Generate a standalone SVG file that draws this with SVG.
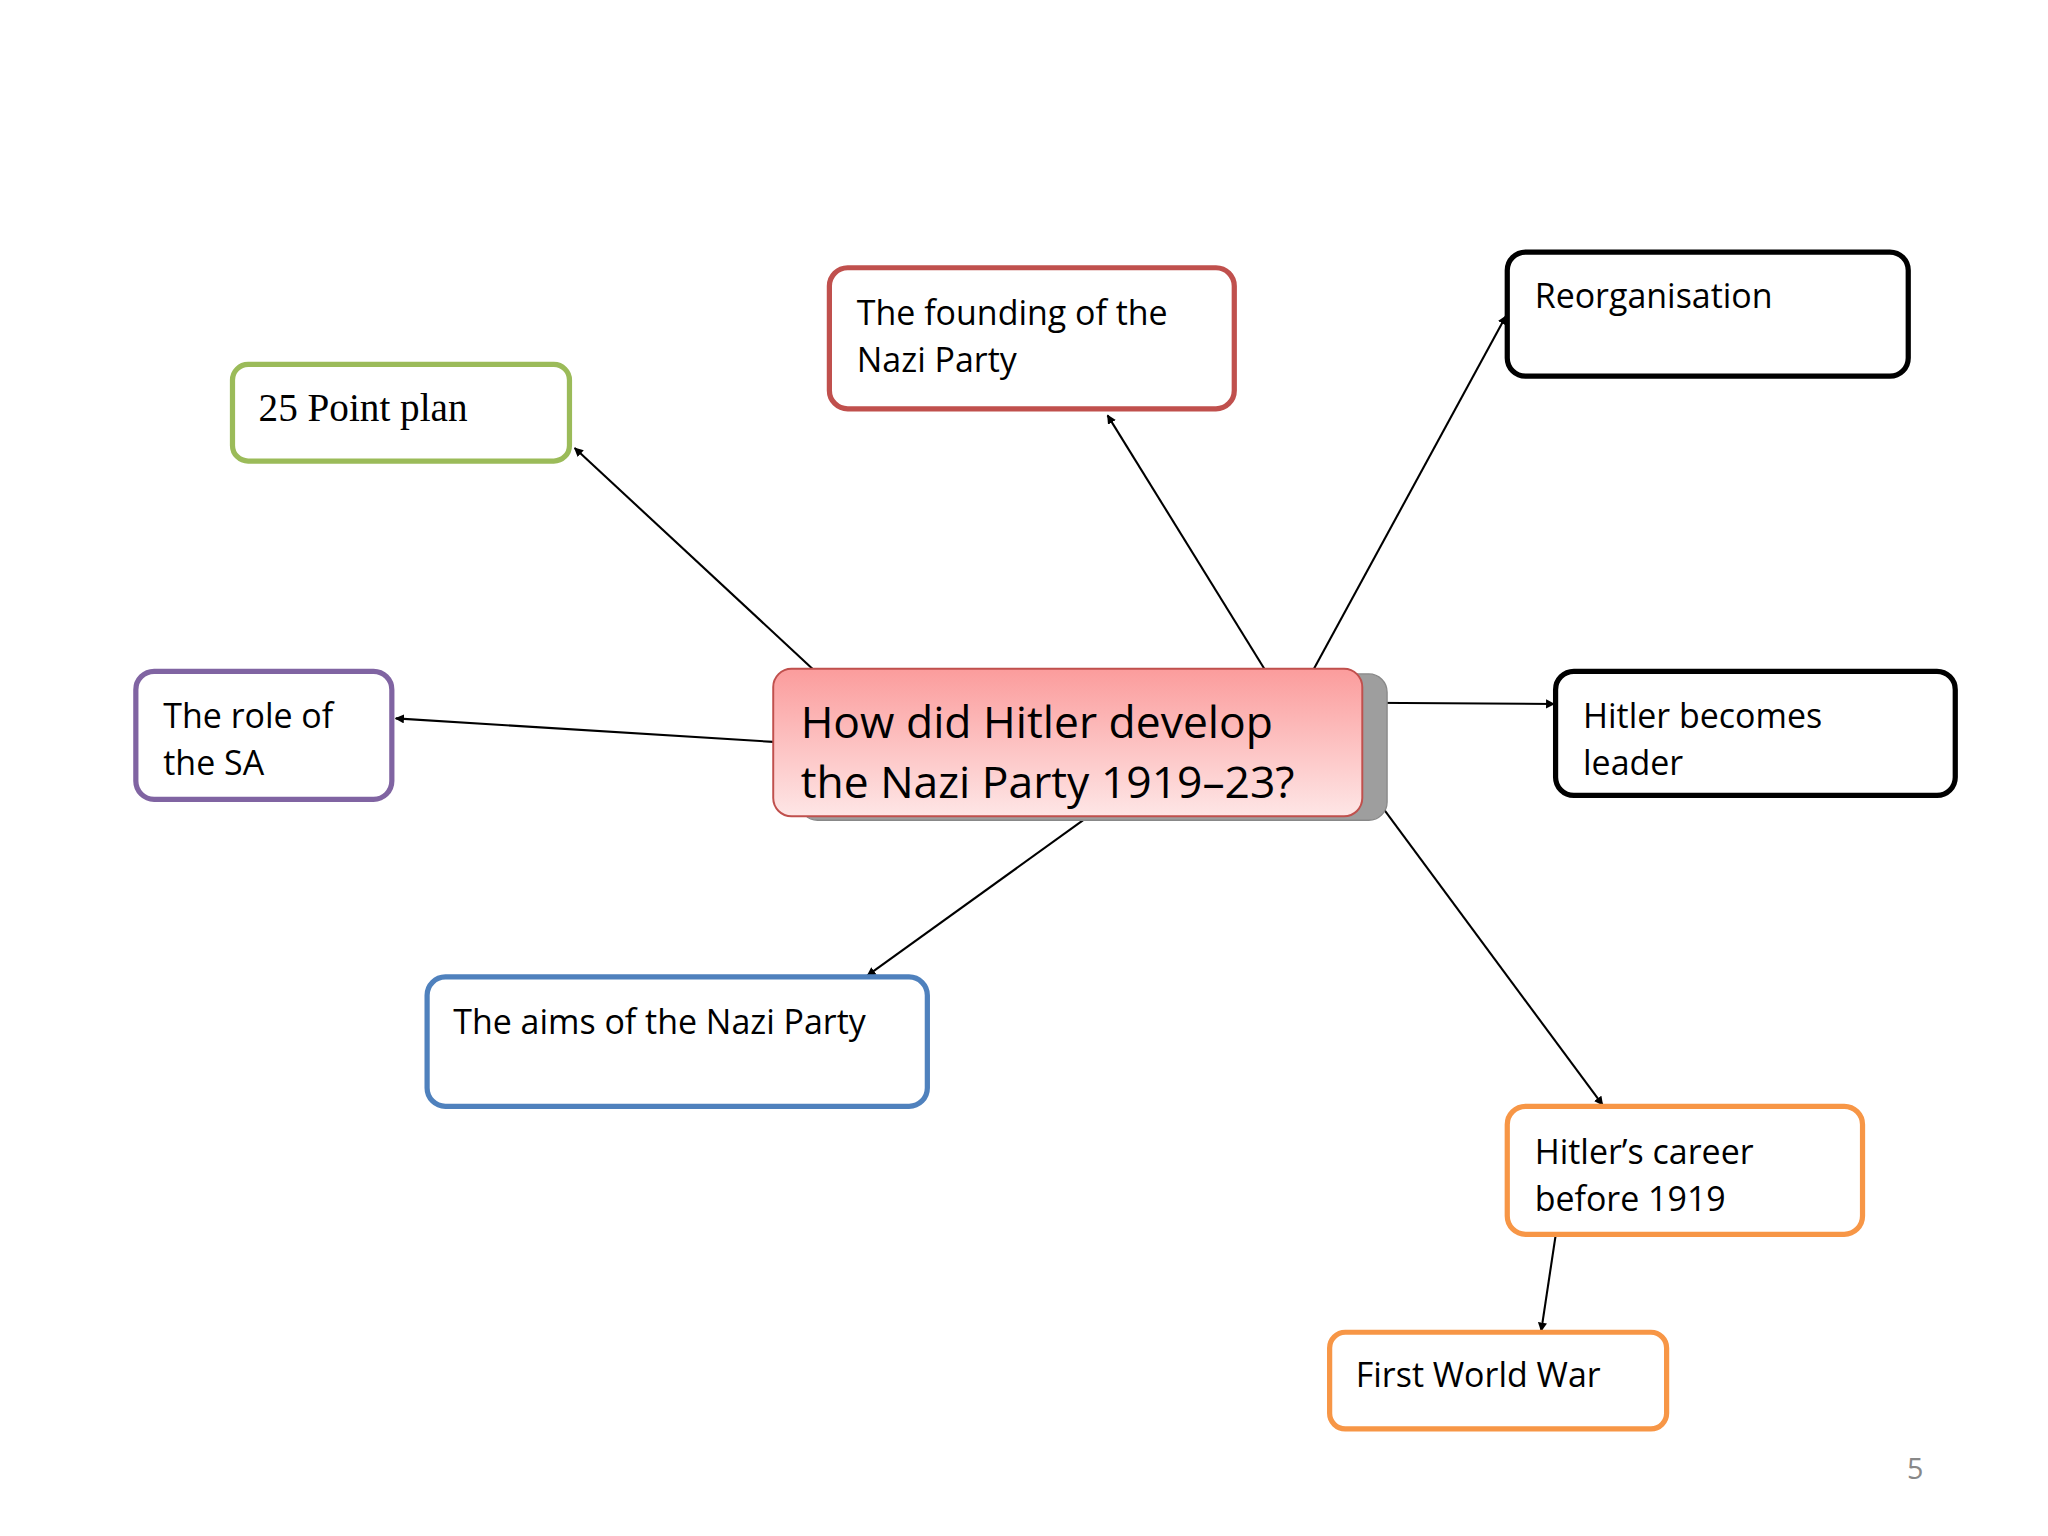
<svg xmlns="http://www.w3.org/2000/svg" width="2048" height="1536" viewBox="0 0 2048 1536">
<defs>
<linearGradient id="g" x1="0" y1="0" x2="0" y2="1"><stop offset="0" stop-color="#FB9C9C"/><stop offset="1" stop-color="#FEE6E6"/></linearGradient>
<marker id="a" viewBox="0 0 10 10" refX="9" refY="5" markerWidth="7" markerHeight="7" orient="auto" markerUnits="userSpaceOnUse"><path d="M0,0L10,5L0,10z" fill="#000"/></marker>
<style>
.n{fill:#fff;stroke-width:4}
.t{font-family:"Open Sans","Liberation Sans",sans-serif;font-size:26px;fill:#000}
.c line{stroke:#000;stroke-width:1.6;marker-end:url(#a)}
</style>
</defs>
<rect width="2048" height="1536" fill="#fff"/>
<g transform="scale(1.30612)">
<g class="c">
<line x1="622" y1="512" x2="440" y2="343"/>
<line x1="968" y1="512" x2="848" y2="318"/>
<line x1="1006" y1="512" x2="1153" y2="242"/>
<line x1="1043" y1="538" x2="1190" y2="539"/>
<line x1="592" y1="568" x2="303" y2="550"/>
<line x1="832" y1="626" x2="664" y2="747"/>
<line x1="1045" y1="600" x2="1227" y2="846"/>
<line x1="1191" y1="946" x2="1180" y2="1019"/>
</g>
<g id="plan"><rect class="n" x="178" y="279" width="258" height="74" rx="12" stroke="#9BBB59"/><text x="198" y="322" style="font-family:'Liberation Serif',serif;font-size:30px">25 Point plan</text></g>
<g id="founding"><rect class="n" x="635" y="205" width="310" height="108" rx="14" stroke="#C0504D"/><text class="t" x="656" y="249">The founding of the</text><text class="t" x="656" y="285">Nazi Party</text></g>
<g id="reorg"><rect class="n" x="1154" y="193" width="307" height="95" rx="14" stroke="#000"/><text class="t" x="1175" y="236">Reorganisation</text></g>
<g id="sa"><rect class="n" x="104" y="514" width="196" height="98" rx="14" stroke="#8064A2"/><text class="t" x="125" y="557">The role of</text><text class="t" x="125" y="593">the SA</text></g>
<g id="central"><rect x="612" y="516" width="450" height="112" rx="14" fill="#9E9E9E" stroke="#888"/><rect x="592" y="512" width="451" height="113" rx="14" fill="url(#g)" stroke="#C0504D" stroke-width="1.5"/><text x="613" y="565" style="font-family:'Open Sans','Liberation Sans',sans-serif;font-size:34px">How did Hitler develop</text><text x="613" y="611" style="font-family:'Open Sans','Liberation Sans',sans-serif;font-size:34px">the Nazi Party 1919–23?</text></g>
<g id="leader"><rect class="n" x="1191" y="514" width="306" height="95" rx="14" stroke="#000"/><text class="t" x="1212" y="557">Hitler becomes</text><text class="t" x="1212" y="593">leader</text></g>
<g id="aims"><rect class="n" x="327" y="748" width="383" height="99" rx="14" stroke="#4F81BD"/><text class="t" x="347" y="792">The aims of the Nazi Party</text></g>
<g id="career"><rect class="n" x="1154" y="847" width="272" height="98" rx="14" stroke="#F79646"/><text class="t" x="1175" y="891">Hitler’s career</text><text class="t" x="1175" y="927">before 1919</text></g>
<g id="ww1"><rect class="n" x="1018" y="1020" width="258" height="74" rx="12" stroke="#F79646"/><text class="t" x="1038" y="1062">First World War</text></g>
<text x="1460" y="1132" style="font-family:'Open Sans','Liberation Sans',sans-serif;font-size:22px;fill:#888">5</text>
</g>
</svg>
